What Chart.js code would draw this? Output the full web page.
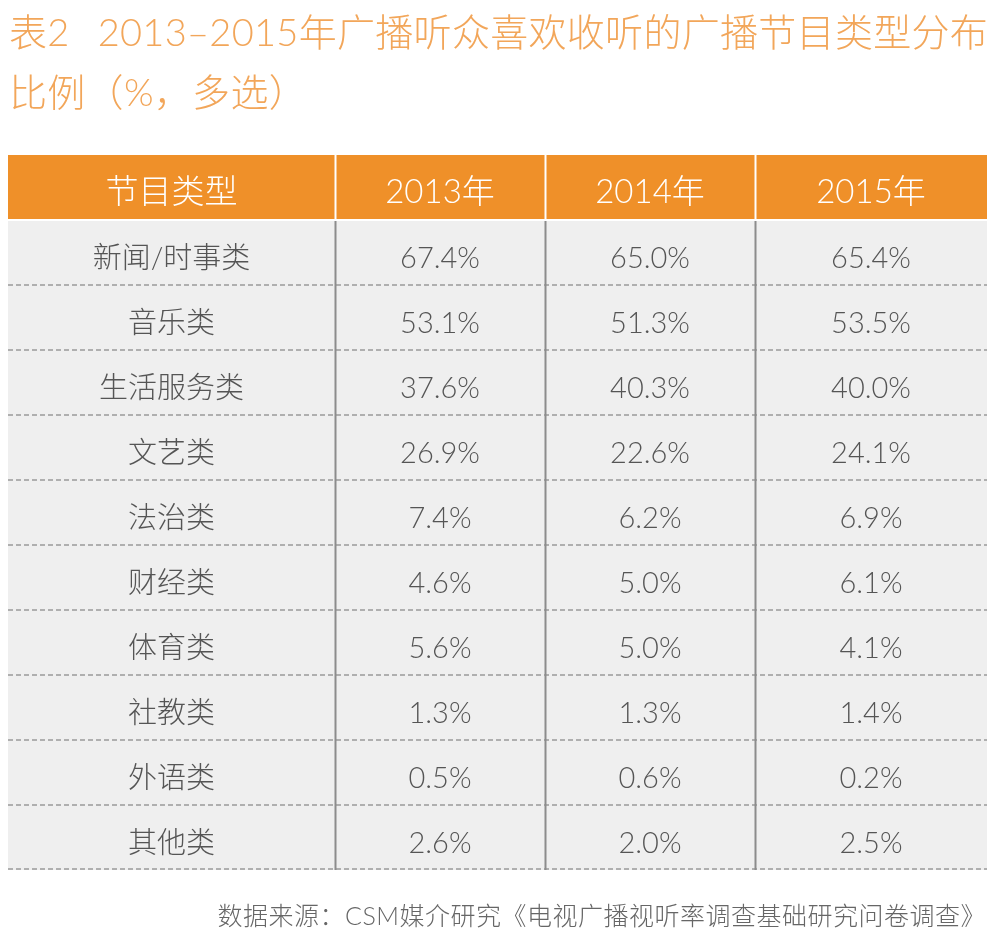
<!DOCTYPE html>
<html>
<head>
<meta charset="utf-8">
<script src="https://cdn.jsdelivr.net/npm/chart.js@4/dist/chart.umd.min.js"></script>
<style>
    html, body { margin: 0; padding: 0; background: #fff; }
    #wrap { position: relative; width: 996px; height: 948px; overflow: hidden; }
    #wrap canvas { position: absolute; left: 0; top: 0; }
    .title {
        position: absolute; left: 9px; white-space: nowrap;
        font-family: Lato, "Noto Sans CJK SC", sans-serif; font-weight: 300;
        color: #f2a65a; font-size: 38px; line-height: 1; letter-spacing: 0.3px;
    }
    #source {
        position: absolute; right: 10px; top: 903px; white-space: nowrap;
        font-family: Lato, "Noto Sans CJK SC", sans-serif; font-weight: 300;
        color: #666; font-size: 25px; line-height: 1; letter-spacing: 0.5px;
    }
</style>
</head>
<body>
<div id="wrap">
    <canvas id="tableChart" width="996" height="948"></canvas>
    <div class="title" style="top:12px">表2<span style="margin-left:28px">2013–2015年广播听众喜欢收听的广播节目类型分布</span></div>
    <div class="title" style="top:72px">比例（%，多选）</div>
    <div id="source">数据来源：CSM媒介研究《电视广播视听率调查基础研究问卷调查》</div>
</div>
<script>
// table data
const headerFirst = "节目类型";
const years = ["2013年", "2014年", "2015年"];
const categories = ["新闻/时事类", "音乐类", "生活服务类", "文艺类", "法治类", "财经类", "体育类", "社教类", "外语类", "其他类"];
const share2013 = [67.4, 53.1, 37.6, 26.9, 7.4, 4.6, 5.6, 1.3, 0.5, 2.6];
const share2014 = [65.0, 51.3, 40.3, 22.6, 6.2, 5.0, 5.0, 1.3, 0.6, 2.0];
const share2015 = [65.4, 53.5, 40.0, 24.1, 6.9, 6.1, 4.1, 1.4, 0.2, 2.5];

// column edges on the x scale (layout only)
const colEdges = [0, 327, 537, 747, 979];

const rowLabels = [headerFirst].concat(categories);
const columns = [share2013, share2014, share2015];

const headerColor = "#ef9029";
const bodyColor = "#efefef";
const fontFamily = 'Lato, "Noto Sans CJK SC", sans-serif';

// draws text and rules on top of the cell backgrounds
const cellPlugin = {
    id: "cells",
    afterDatasetsDraw(chart) {
        const c = chart.ctx;
        const xs = chart.scales.x;
        const ys = chart.scales.y;
        const area = chart.chartArea;
        const rowEdge = i => (ys.getPixelForValue(i) + ys.getPixelForValue(i + 1)) / 2;
        const headerBottom = rowEdge(0);

        c.save();
        // thin white line under header
        c.strokeStyle = "#ffffff";
        c.lineWidth = 2;
        c.beginPath();
        c.moveTo(area.left, headerBottom);
        c.lineTo(area.right, headerBottom);
        c.stroke();

        // dashed row rules
        c.strokeStyle = "#9a9a9a";
        c.lineWidth = 1.5;
        c.setLineDash([5, 3]);
        for (let i = 1; i < rowLabels.length; i++) {
            const y = i === rowLabels.length - 1 ? area.bottom - 1 : rowEdge(i);
            c.beginPath();
            c.moveTo(area.left, y);
            c.lineTo(area.right, y);
            c.stroke();
        }
        c.setLineDash([]);

        // column rules
        for (let j = 1; j < colEdges.length - 1; j++) {
            const x = Math.round(xs.getPixelForValue(colEdges[j])) + 0.5;
            c.lineWidth = 2;
            c.strokeStyle = "#ffffff";
            c.beginPath();
            c.moveTo(x, area.top);
            c.lineTo(x, headerBottom);
            c.stroke();
            c.strokeStyle = "#8c8c8c";
            c.beginPath();
            c.moveTo(x, headerBottom + 1);
            c.lineTo(x, area.bottom);
            c.stroke();
        }

        // text
        c.textAlign = "center";
        c.textBaseline = "middle";
        const colCenter = j => xs.getPixelForValue((colEdges[j] + colEdges[j + 1]) / 2);
        c.fillStyle = "#ffffff";
        c.font = "300 33px " + fontFamily;
        const headY = ys.getPixelForValue(0) + 5;
        c.fillText(headerFirst, colCenter(0), headY);
        years.forEach((yr, j) => c.fillText(yr, colCenter(j + 1), headY));

        c.fillStyle = "#555555";
        c.font = "300 29px " + fontFamily;
        categories.forEach((cat, i) => {
            const y = ys.getPixelForValue(i + 1) + 6;
            c.fillText(cat, colCenter(0), y);
            columns.forEach((col, j) => {
                c.fillText(col[i].toFixed(1) + "%", colCenter(j + 1), y);
            });
        });
        c.restore();
    }
};

const ctx = document.getElementById("tableChart").getContext("2d");
new Chart(ctx, {
    type: "bar",
    data: {
        labels: rowLabels,
        datasets: [{
            data: rowLabels.map(() => [colEdges[0], colEdges[colEdges.length - 1]]),
            backgroundColor: rowLabels.map((r, i) => i === 0 ? headerColor : bodyColor),
            borderWidth: 0,
            barPercentage: 1,
            categoryPercentage: 1
        }]
    },
    options: {
        indexAxis: "y",
        responsive: false,
        animation: false,
        events: [],
        layout: { padding: { left: 8, right: 9, top: 155, bottom: 78 } },
        plugins: { legend: { display: false }, tooltip: { enabled: false } },
        scales: {
            x: { type: "linear", display: false, min: colEdges[0], max: colEdges[colEdges.length - 1] },
            y: { display: false }
        }
    },
    plugins: [cellPlugin]
});
</script>
</body>
</html>
